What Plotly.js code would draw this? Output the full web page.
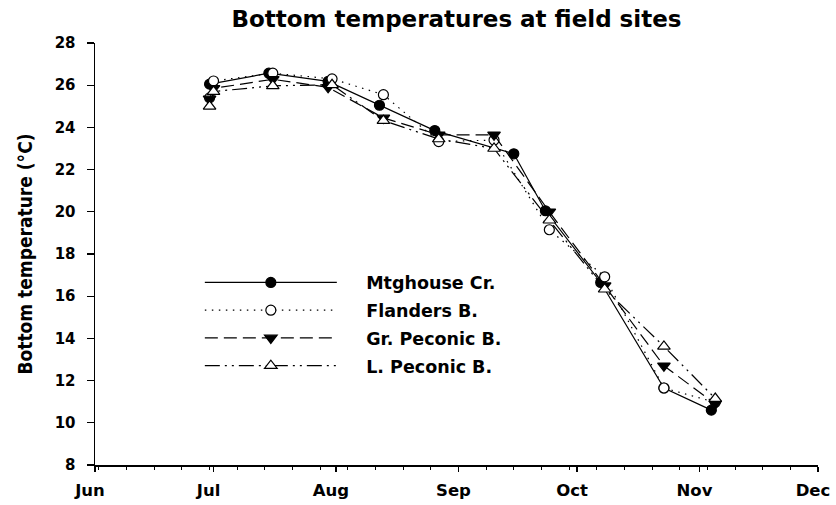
<!DOCTYPE html>
<html>
<head>
<meta charset="utf-8">
<script src="https://cdn.plot.ly/plotly-3.0.1.min.js"></script>
<style>
  html, body { margin: 0; padding: 0; background: #ffffff; }
  #chart { width: 836px; height: 505px; }
</style>
</head>
<body>
<div id="chart"></div>
<script>
// ---- Data ----
const seriesNames = ['Mtghouse Cr.', 'Flanders B.', 'Gr. Peconic B.', 'L. Peconic B.'];

const mtgDates = ['2001-06-30','2001-07-15','2001-07-30','2001-08-12','2001-08-26','2001-09-15','2001-09-23','2001-10-07','2001-10-23','2001-11-04'];
const mtgTemp  = [26.05, 26.57, 26.18, 25.05, 23.85, 22.75, 20.05, 16.65, 11.65, 10.6];

const flaDates = ['2001-06-30','2001-07-01','2001-07-16','2001-07-31','2001-08-13','2001-08-27','2001-09-10','2001-09-24','2001-10-08','2001-10-23','2001-11-05'];
const flaTemp  = [25.4, 26.2, 26.57, 26.3, 25.55, 23.33, 23.4, 19.15, 16.92, 11.65, 10.97];

const grpDates = ['2001-06-30','2001-07-01','2001-07-16','2001-07-30','2001-08-13','2001-08-27','2001-09-10','2001-09-24','2001-10-08','2001-10-23','2001-11-05'];
const grpTemp  = [25.35, 25.85, 26.28, 25.9, 24.45, 23.65, 23.65, 20.0, 16.5, 12.7, 10.9];

const lpcDates = ['2001-06-30','2001-07-01','2001-07-16','2001-07-31','2001-08-13','2001-08-27','2001-09-10','2001-09-24','2001-10-08','2001-10-23','2001-11-05'];
const lpcTemp  = [25.0, 25.7, 25.97, 26.02, 24.32, 23.45, 23.0, 19.6, 16.33, 13.62, 11.15];

const xRange = ['2001-06-01', '2001-12-01'];
const yRange = [8, 28];

const chartTitle = 'Bottom temperatures at field sites';
const yTitle = 'Bottom temperature (°C)';

// ---- Styles ----
const pad = '\u00a0\u00a0\u00a0\u00a0';
const bold = 'bold';
const lineW = 1.2;

function trace(x, y, name, dash, symbol, fill, size, grp) {
  return {
    type: 'scatter', mode: 'lines+markers',
    x: x, y: y, name: pad + name, legendgroup: grp,
    line: { color: '#000000', width: lineW, dash: dash },
    marker: { symbol: symbol, size: size, color: fill, line: { color: '#000000', width: 1.2 } },
    hoverinfo: 'skip'
  };
}

const data = [
  trace(mtgDates, mtgTemp, seriesNames[0], 'solid', 'circle', '#000000', 10, 'g1'),
  trace(flaDates, flaTemp, seriesNames[1], '1.5px,5.5px', 'circle', '#ffffff', 10, 'g2'),
  trace(grpDates, grpTemp, seriesNames[2], '13px,6px', 'triangle-down', '#000000', 11, 'g3'),
  trace(lpcDates, lpcTemp, seriesNames[3], '15px,5px,2px,5px,2px,5px', 'triangle-up', '#ffffff', 11, 'g4')
];

const layout = {
  width: 836, height: 505,
  margin: { l: 95, r: 18, t: 43, b: 40, pad: 0 },
  paper_bgcolor: '#ffffff', plot_bgcolor: '#ffffff',
  font: { family: 'DejaVu Sans', color: '#000000' },
  title: {
    text: chartTitle,
    font: { family: 'DejaVu Sans', size: 23, weight: bold, color: '#000000' },
    xref: 'paper', x: 0.5, xanchor: 'center',
    yref: 'container', y: 0.962, yanchor: 'middle'
  },
  xaxis: {
    type: 'date', range: xRange, autorange: false,
    tickmode: 'linear', tick0: '2001-06-01', dtick: 'M1', tickformat: '%b',
    ticks: 'outside', ticklen: 5, tickwidth: 1.2, tickcolor: '#000000',
    showline: true, linecolor: '#000000', linewidth: 1.5,
    showgrid: false, zeroline: false,
    tickfont: { family: 'DejaVu Sans', size: 16.5, weight: bold, color: '#000000' },
    ticklabelstandoff: 5, ticklabelshift: -5,
    minor: { tick0: '2001-06-02', dtick: 7 * 86400000, ticks: 'outside', ticklen: 3.5, tickwidth: 1, tickcolor: '#000000', showgrid: false }
  },
  yaxis: {
    range: yRange, autorange: false,
    tickmode: 'linear', tick0: 8, dtick: 2,
    ticks: 'outside', ticklen: 7, tickwidth: 1.2, tickcolor: '#000000',
    showline: true, linecolor: '#000000', linewidth: 1.5,
    showgrid: false, zeroline: false,
    tickfont: { family: 'DejaVu Sans', size: 15, weight: bold, color: '#000000' },
    ticklabelstandoff: 8,
    title: { text: yTitle, standoff: 17, font: { family: '"DejaVu Sans Condensed", "Liberation Sans Narrow", "Liberation Sans"', size: 19, weight: bold, color: '#000000' } }
  },
  showlegend: true,
  legend: {
    x: 0.145, xanchor: 'left', xref: 'paper',
    y: 0.475, yanchor: 'top', yref: 'paper',
    bgcolor: 'rgba(0,0,0,0)', borderwidth: 0,
    itemwidth: 132, tracegroupgap: 2,
    font: { family: 'DejaVu Sans', size: 17.5, weight: bold, color: '#000000' },
    itemclick: false, itemdoubleclick: false
  }
};

Plotly.newPlot('chart', data, layout, { displayModeBar: false, staticPlot: true });
</script>
</body>
</html>
